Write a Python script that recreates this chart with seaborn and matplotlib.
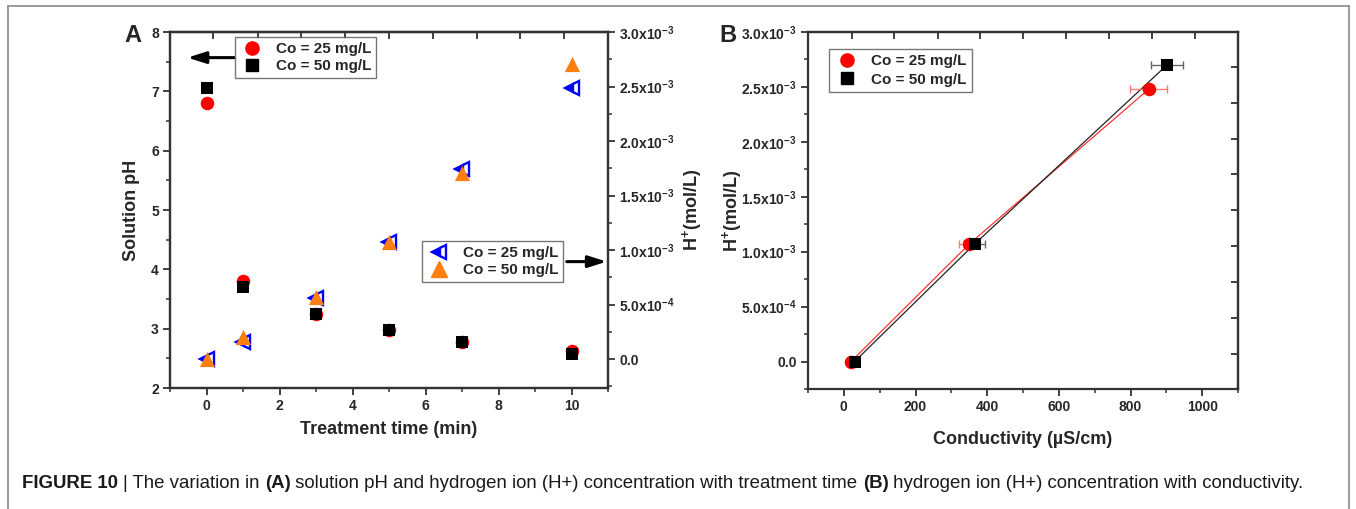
import matplotlib
matplotlib.use("Agg")
import matplotlib.pyplot as plt
import seaborn as sns
import pandas as pd
from matplotlib.lines import Line2D
from matplotlib.ticker import MultipleLocator, FuncFormatter

# ---------------- data ----------------
time_min = [0, 1, 3, 5, 7, 10]
ph_25 = [6.80, 3.80, 3.25, 2.97, 2.77, 2.62]
ph_50 = [7.06, 3.71, 3.25, 2.97, 2.77, 2.58]
h_25 = [0.0, 0.16e-3, 0.56e-3, 1.07e-3, 1.745e-3, 2.486e-3]
h_50 = [0.005e-3, 0.20e-3, 0.57e-3, 1.07e-3, 1.706e-3, 2.706e-3]

cond_25 = [20, 350, 851]
hb_25 = [0.0, 1.07e-3, 2.48e-3]
cond_err_25 = [3, 28, 52]
cond_50 = [30, 365, 902]
hb_50 = [0.0, 1.07e-3, 2.70e-3]
cond_err_50 = [3, 30, 44]

legend_labels = ["Co = 25 mg/L", "Co = 50 mg/L"]

# ---------------- style ----------------
sns.set_style("ticks")
plt.rcParams["font.family"] = ["Liberation Sans", "DejaVu Sans"]
plt.rcParams["font.weight"] = "bold"
plt.rcParams["axes.labelweight"] = "bold"
plt.rcParams["mathtext.fontset"] = "custom"
plt.rcParams["mathtext.rm"] = "Liberation Sans:bold"
plt.rcParams["mathtext.it"] = "Liberation Sans:bold"
plt.rcParams["mathtext.bf"] = "Liberation Sans:bold"
plt.rcParams["mathtext.default"] = "rm"

SPINE = "#333333"
TICKFS = 10
LABFS = 13
LEGFS = 11

W, H = 1356, 509
fig = plt.figure(figsize=(W / 100, H / 100), dpi=100)


def box(l, t, r, b):
    return [l / W, 1 - b / H, (r - l) / W, (b - t) / H]


def sci_fmt(v, pos):
    if abs(v) < 1e-12:
        return "0.0"
    exp = int(f"{v:.1e}".split("e")[1])
    mant = v / 10 ** exp
    return f"{mant:.1f}x10$^{{{exp}}}$"


def style_spines(ax):
    for s in ax.spines.values():
        s.set_color(SPINE)
        s.set_linewidth(1.6)


LEG_KW = dict(frameon=True, fancybox=False, edgecolor="#555555", handletextpad=0.8,
              handlelength=1.6, borderpad=0.3, labelspacing=0.22, borderaxespad=0,
              prop={"weight": "bold", "size": LEGFS})

# ---------------- Panel A ----------------
axA = fig.add_axes(box(170, 32, 608, 388))
axA2 = axA.twinx()

dfA = pd.DataFrame({"t": time_min, "ph25": ph_25, "ph50": ph_50, "h25": h_25, "h50": h_50})

sns.scatterplot(data=dfA, x="t", y="ph25", ax=axA, color="#ff0000", marker="o",
                s=95, edgecolor="#ff0000", linewidth=0, zorder=3)
sns.scatterplot(data=dfA, x="t", y="ph50", ax=axA, color="black", marker="s",
                s=80, edgecolor="black", linewidth=0, zorder=4)

axA2.plot(dfA["t"], dfA["h25"], linestyle="none", marker="<", markersize=10,
          fillstyle="left", markerfacecolor="#0000ff", markerfacecoloralt="white",
          markeredgecolor="#0000ff", markeredgewidth=1.7, zorder=3)
sns.scatterplot(data=dfA, x="t", y="h50", ax=axA2, color="#ff7f0e", marker="^",
                s=120, edgecolor="#ff7f0e", linewidth=0, zorder=4)

axA.set_xlim(-1, 11)
axA.set_ylim(2, 8)
axA2.set_ylim(-0.265e-3, 3.0e-3)

axA.set_xticks([0, 2, 4, 6, 8, 10])
axA.xaxis.set_minor_locator(MultipleLocator(1))
axA.set_yticks([2, 3, 4, 5, 6, 7, 8])
axA.yaxis.set_minor_locator(MultipleLocator(0.5))
axA2.set_yticks([0, 0.5e-3, 1.0e-3, 1.5e-3, 2.0e-3, 2.5e-3, 3.0e-3])
axA2.yaxis.set_minor_locator(MultipleLocator(0.25e-3))
axA2.yaxis.set_major_formatter(FuncFormatter(sci_fmt))

axA.set_xlabel("Treatment time (min)", fontsize=LABFS, fontweight="bold", labelpad=6)
axA.set_ylabel("Solution pH", fontsize=LABFS, fontweight="bold", labelpad=8)
axA2.set_ylabel("H$^{+}$(mol/L)", fontsize=LABFS, fontweight="bold", rotation=90, labelpad=4)

for a in (axA, axA2):
    style_spines(a)
    a.tick_params(which="major", direction="out", length=5, width=1.3, color=SPINE,
                  labelsize=TICKFS, pad=3)
    a.tick_params(which="minor", direction="out", length=3, width=1.1, color=SPINE)
axA.tick_params(top=False, which="both")
for lab in axA.get_xticklabels() + axA.get_yticklabels() + axA2.get_yticklabels():
    lab.set_fontweight("bold")

topA = axA.secondary_xaxis("top")
topA.set_xticks([0.19, 1.4, 2.6, 3.8, 5.0, 6.2, 7.4, 8.6, 9.8])
topA.tick_params(direction="in", length=5, width=1.3, color=SPINE, labeltop=False)
topA.spines["top"].set_color(SPINE)
topA.spines["top"].set_linewidth(1.6)

hA1 = [Line2D([], [], linestyle="none", marker="o", markersize=9.5, color="#ff0000"),
       Line2D([], [], linestyle="none", marker="s", markersize=8.5, color="black")]
legA1 = axA.legend(hA1, legend_labels, loc="upper left", bbox_to_anchor=(0.148, 0.985),
                   **LEG_KW)
legA1.get_frame().set_linewidth(1.0)

hA2 = [Line2D([], [], linestyle="none", marker="<", markersize=10, fillstyle="left",
              markerfacecolor="#0000ff", markerfacecoloralt="white", markeredgecolor="#0000ff",
              markeredgewidth=1.7),
       Line2D([], [], linestyle="none", marker="^", markersize=11, color="#ff7f0e")]
legA2 = axA2.legend(hA2, legend_labels, loc="upper left", bbox_to_anchor=(0.575, 0.412),
                    **LEG_KW)
legA2.get_frame().set_linewidth(1.0)

axA.annotate("", xy=(0.04, 0.928), xytext=(0.146, 0.928), xycoords="axes fraction",
             arrowprops=dict(arrowstyle="-|>,head_length=1.1,head_width=0.35", color="black",
                             lw=2.2, shrinkA=0, shrinkB=0))
axA2.annotate("", xy=(0.997, 0.355), xytext=(0.906, 0.355), xycoords="axes fraction",
              arrowprops=dict(arrowstyle="-|>,head_length=1.1,head_width=0.35", color="black",
                              lw=2.2, shrinkA=0, shrinkB=0))

fig.text(133 / W, 1 - 35 / H, "A", fontsize=17, fontweight="bold", ha="center", va="center")

# ---------------- Panel B ----------------
axB = fig.add_axes(box(808, 32, 1238, 389))
df25 = pd.DataFrame({"c": cond_25, "h": hb_25})
df50 = pd.DataFrame({"c": cond_50, "h": hb_50})

sns.lineplot(data=df25, x="c", y="h", ax=axB, color="#ff3333", lw=0.9, sort=False, zorder=2)
sns.lineplot(data=df50, x="c", y="h", ax=axB, color="#222222", lw=0.9, sort=False, zorder=2)
axB.errorbar(cond_25, hb_25, xerr=cond_err_25, fmt="none", ecolor="#ff7777", elinewidth=1.0,
             capsize=3, capthick=1.0, zorder=2)
axB.errorbar(cond_50, hb_50, xerr=cond_err_50, fmt="none", ecolor="#666666", elinewidth=1.0,
             capsize=3, capthick=1.0, zorder=2)
sns.scatterplot(data=df25, x="c", y="h", ax=axB, color="#ff0000", marker="o", s=95,
                linewidth=0, zorder=3)
sns.scatterplot(data=df50, x="c", y="h", ax=axB, color="black", marker="s", s=80,
                linewidth=0, zorder=4)

axB.set_xlim(-100, 1100)
axB.set_ylim(-0.25e-3, 3.0e-3)
axB.set_xticks([0, 200, 400, 600, 800, 1000])
axB.xaxis.set_minor_locator(MultipleLocator(100))
axB.set_yticks([0, 0.5e-3, 1.0e-3, 1.5e-3, 2.0e-3, 2.5e-3, 3.0e-3])
axB.yaxis.set_minor_locator(MultipleLocator(0.25e-3))
axB.yaxis.set_major_formatter(FuncFormatter(sci_fmt))
axB.set_xlabel("Conductivity (µS/cm)", fontsize=LABFS, fontweight="bold", labelpad=12)
axB.set_ylabel("H$^{+}$(mol/L)", fontsize=LABFS, fontweight="bold", labelpad=-2)
style_spines(axB)
axB.tick_params(which="major", direction="out", length=5, width=1.3, color=SPINE,
                labelsize=TICKFS, pad=3, top=False, right=False)
axB.tick_params(which="minor", direction="out", length=3, width=1.1, color=SPINE,
                top=False, right=False)
for lab in axB.get_xticklabels() + axB.get_yticklabels():
    lab.set_fontweight("bold")

topB = axB.secondary_xaxis("top")
topB.set_xticks([23, 141, 262, 381, 501, 621, 741, 861, 981])
topB.tick_params(direction="in", length=5, width=1.3, color=SPINE, labeltop=False)
topB.spines["top"].set_color(SPINE)
topB.spines["top"].set_linewidth(1.6)
rightB = axB.secondary_yaxis("right")
rightB.set_yticks([0.073e-3, 0.40e-3, 0.727e-3, 1.05e-3, 1.38e-3, 1.71e-3, 2.03e-3,
                   2.35e-3, 2.68e-3])
rightB.tick_params(direction="in", length=5, width=1.3, color=SPINE, labelright=False)
rightB.spines["right"].set_color(SPINE)
rightB.spines["right"].set_linewidth(1.6)

hB = [Line2D([], [], linestyle="none", marker="o", markersize=9.5, color="#ff0000"),
      Line2D([], [], linestyle="none", marker="s", markersize=8.5, color="black")]
legB_kw = dict(LEG_KW)
legB_kw.update(borderpad=0.35, labelspacing=0.3)
legB = axB.legend(hB, legend_labels, loc="upper left", bbox_to_anchor=(0.049, 0.953),
                  **legB_kw)
legB.get_frame().set_linewidth(1.0)

fig.text(728 / W, 1 - 35 / H, "B", fontsize=17, fontweight="bold", ha="center", va="center")

# ---------------- frame ----------------
fcol = "#8a8a8a"
fig.add_artist(Line2D([8 / W, 8 / W], [0, 1 - 6 / H], color=fcol, lw=1.2))
fig.add_artist(Line2D([1349 / W, 1349 / W], [0, 1 - 6 / H], color=fcol, lw=1.2))
fig.add_artist(Line2D([8 / W, 1349 / W], [1 - 6 / H, 1 - 6 / H], color=fcol, lw=1.2))

# ---------------- caption ----------------
parts = [("FIGURE 10 ", "bold"), ("| The variation in ", "normal"), ("(A)", "bold"),
         (" solution pH and hydrogen ion (H+) concentration with treatment time ", "normal"),
         ("(B)", "bold"), (" hydrogen ion (H+) concentration with conductivity.", "normal")]
renderer = fig.canvas.get_renderer()
x = 22 / W
yc = 1 - 483 / H
for txt, wt in parts:
    t = fig.text(x, yc, txt, fontsize=13.4, fontweight=wt, color="#1a1a1a", va="center",
                 ha="left", family=["Liberation Sans", "DejaVu Sans"])
    bb = t.get_window_extent(renderer=renderer)
    x += bb.width / W

fig.savefig("out.png", dpi=100)
